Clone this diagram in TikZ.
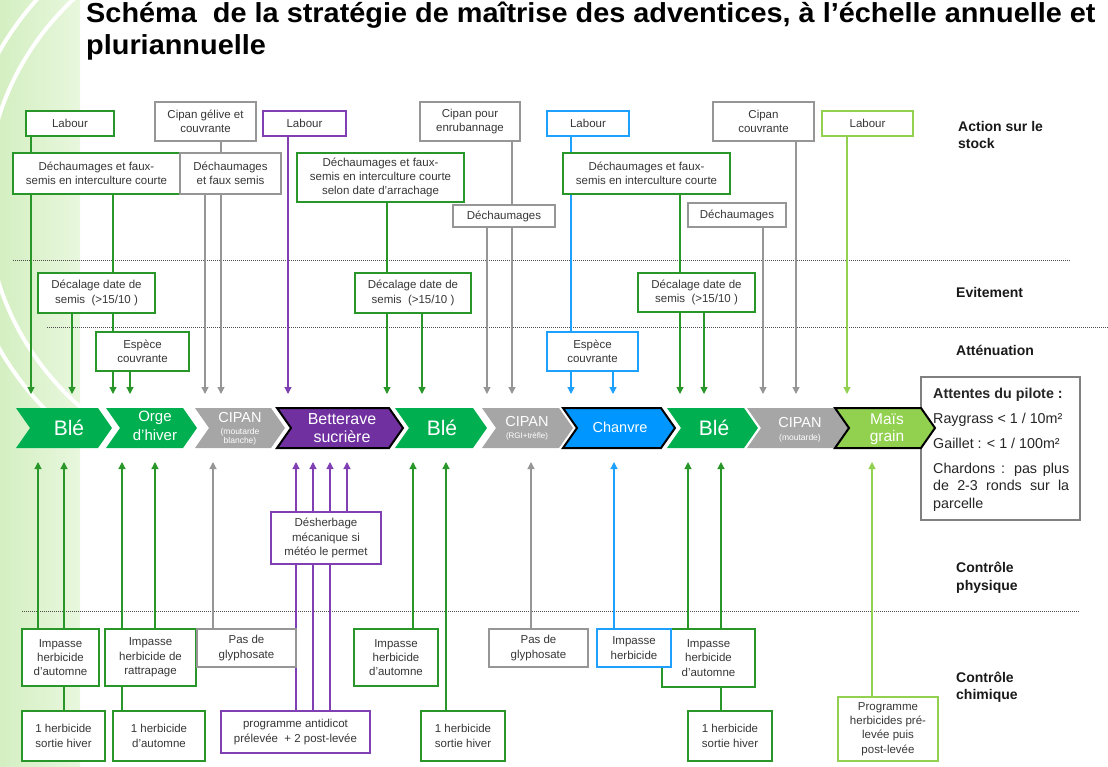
\documentclass[tikz,border=0pt]{standalone}
\usepackage{fontspec}
\setmainfont{Liberation Sans}
\newfontfamily\titlefont[FakeStretch=1.05]{Liberation Sans}
\usetikzlibrary{arrows.meta}
\pgfdeclarelayer{bgg}
\pgfdeclarelayer{bg}
\pgfsetlayers{bgg,bg,main}
\definecolor{dkg}{RGB}{40,150,40}
\definecolor{grl}{RGB}{150,150,150}
\definecolor{pur}{RGB}{128,64,180}
\definecolor{blu}{RGB}{30,160,255}
\definecolor{lgr}{RGB}{146,208,80}
\definecolor{txt}{RGB}{55,55,55}
\definecolor{chg}{RGB}{0,176,80}
\definecolor{chgray}{RGB}{166,166,166}
\definecolor{chp}{RGB}{112,48,160}
\definecolor{chb}{RGB}{0,150,255}
\definecolor{chl}{RGB}{146,208,80}
\definecolor{attg}{RGB}{128,128,128}
\definecolor{stripL}{RGB}{212,239,194}
\definecolor{stripR}{RGB}{232,247,221}
\tikzset{
  bx/.style={draw, fill=white, line width=1.3pt, text=txt, align=center, inner sep=0pt,
    font=\fontsize{11.5}{14.3}\selectfont},
  gb/.style={bx, draw=dkg},
  grb/.style={bx, draw=grl},
  pb/.style={bx, draw=pur},
  bb/.style={bx, draw=blu},
  lb/.style={bx, draw=lgr},
  arr/.style={line width=1.2pt, -{Triangle[width=7pt,length=7pt]}},
  garr/.style={arr, draw=dkg, color=dkg},
  grarr/.style={arr, draw=grl, color=grl},
  parr/.style={arr, draw=pur, color=pur},
  barr/.style={arr, draw=blu, color=blu},
  larr/.style={arr, draw=lgr, color=lgr},
  dotln/.style={draw=black!70, line width=1pt, dash pattern=on 1pt off 1pt},
  chtx/.style={text=white, inner sep=0pt},
  side/.style={font=\fontsize{14}{17}\selectfont\bfseries, text=black!90, inner sep=0pt, anchor=base west},
  att/.style={font=\fontsize{14.3}{17}\selectfont, text=black!85, inner sep=0pt, anchor=base west},
  ttl/.style={anchor=base west, inner sep=0pt, font=\titlefont\fontsize{27.5}{32}\selectfont\bfseries},
}
\newcommand{\bxn}[7]{\node[#1, minimum width={(#5-#3)*1pt}, minimum height={(#6-#4)*1pt}] (#2) at ({(#3+#5)/2},{(#4+#6)/2}) {#7};}
\newcommand{\chevron}[3]{\path[#3] (#1,408) -- ({#2-14},408) -- (#2,428) -- ({#2-14},448) -- (#1,448) -- ({#1+14},428) -- cycle;}
\begin{document}
\begin{tikzpicture}[x=1pt,y=-1pt]
\useasboundingbox (0,0) rectangle (1108,766);
% background strip
\begin{pgfonlayer}{bgg}
\shade[left color=stripL, right color=stripR] (0,0) rectangle (80,766);
\begin{scope}
\clip (0,0) rectangle (80,766);
\draw[white, line width=4pt] (260,200) circle[radius=274pt];
\draw[white, line width=4pt] (260,200) circle[radius=300pt];
\end{scope}
\draw[dotln] (13,260) -- (1070,260);
\draw[dotln] (47,327) -- (1108,327);
\draw[dotln] (22,611) -- (1079,611);
\end{pgfonlayer}
% title
\node[ttl] (t1) at (86,22.5) {Schéma\ \ de la stratégie de maîtrise des adventices, à l’échelle annuelle et};
\node[ttl] (t2) at (86,54) {pluriannuelle};
% side labels
\node[side] (s1) at (958,131) {Action sur le};
\node[side] (s1b) at (958,148) {stock};
\node[side] (s2) at (956,297) {Evitement};
\node[side] (s3) at (956,355) {Atténuation};
\node[side] (s4) at (956,572) {Contrôle};
\node[side] (s4b) at (956,590) {physique};
\node[side] (s5) at (956,682) {Contrôle};
\node[side] (s5b) at (956,699) {chimique};
% top boxes
\bxn{gb}{labA}{26}{111}{114}{136}{Labour}
\bxn{grb}{cipA}{155}{102}{256}{141}{Cipan gélive et\\couvrante}
\bxn{pb}{labB}{263}{111}{346}{136}{Labour}
\bxn{grb}{cipB}{420}{102}{520}{141}{Cipan pour\\enrubannage}
\bxn{bb}{labC}{547}{111}{629}{136}{Labour}
\bxn{grb}{cipC}{713}{102}{814}{141}{Cipan\\couvrante}
\bxn{lb}{labD}{822}{111}{913}{136}{Labour}
\bxn{gb}{decA}{13}{153}{180}{194}{Déchaumages et faux-\\semis en interculture courte}
\bxn{grb}{decB}{180}{153}{281}{194}{Déchaumages\\et faux semis}
\bxn{gb}{decC}{297}{153}{464}{202}{Déchaumages et faux-\\semis en interculture courte\\selon date d’arrachage}
\bxn{grb}{decD}{453}{205}{555}{227}{Déchaumages}
\bxn{gb}{decE}{563}{153}{730}{194}{Déchaumages et faux-\\semis en interculture courte}
\bxn{grb}{decF}{688}{203}{786}{227}{Déchaumages}
\bxn{gb}{calA}{38}{273}{155}{313}{Décalage date de\\semis\ \ (>15/10 )}
\bxn{gb}{calB}{355}{273}{471}{313}{Décalage date de\\semis\ \ (>15/10 )}
\bxn{gb}{calC}{638}{273}{755}{312}{Décalage date de\\semis\ \ (>15/10 )}
\bxn{gb}{espA}{96}{332}{189}{371}{Espèce\\couvrante}
\bxn{bb}{espB}{547}{332}{638}{371}{Espèce\\couvrante}
% bottom boxes
\bxn{pb}{desh}{271}{512}{381}{564}{Désherbage\\mécanique si\\météo le permet}
\bxn{gb}{impA}{22}{629}{99}{686}{Impasse\\herbicide\\d’automne}
\bxn{gb}{impB}{105}{629}{196}{686}{Impasse\\herbicide de\\rattrapage}
\bxn{grb}{glyA}{197}{629}{296}{667}{Pas de\\glyphosate}
\bxn{gb}{impC}{354}{629}{438}{686}{Impasse\\herbicide\\d’automne}
\bxn{grb}{glyB}{489}{629}{588}{667}{Pas de\\glyphosate}
\bxn{gb}{impE}{662}{629}{755}{687}{Impasse\\herbicide\\d’automne}
\bxn{bb}{impD}{597}{629}{671}{667}{Impasse\\herbicide}
\bxn{gb}{herA}{22}{711}{105}{761}{1 herbicide\\sortie hiver}
\bxn{gb}{herB}{113}{711}{205}{761}{1 herbicide\\d’automne}
\bxn{pb}{prog}{221}{711}{370}{753}{programme antidicot\\prélevée\ \ + 2 post-levée}
\bxn{gb}{herC}{421}{711}{505}{761}{1 herbicide\\sortie hiver}
\bxn{gb}{herD}{688}{711}{772}{761}{1 herbicide\\sortie hiver}
\bxn{lb}{progB}{838}{697}{938}{761}{Programme\\herbicides pré-\\levée puis\\post-levée}
% attentes box
\node[draw=attg, line width=2.5pt, fill=white, minimum width=159pt, minimum height=143pt, inner sep=0pt] (att) at (1000.5,448.5) {};
\node[att, font=\fontsize{14.3}{17}\selectfont\bfseries] (a1) at (933,398) {Attentes du pilote :};
\node[att] (a2) at (933,423) {Raygrass < 1 / 10m²};
\node[att] (a3) at (933,448) {Gaillet : < 1 / 100m²};
\node[att] (a4) at (933,473) {\makebox[136pt][s]{Chardons : pas plus}};
\node[att] (a5) at (933,490.5) {\makebox[136pt][s]{de 2-3 ronds sur la}};
\node[att] (a6) at (933,508) {parcelle};
% chevrons
\chevron{16}{112}{fill=chg}
\chevron{106}{197}{fill=chg}
\chevron{195}{285}{fill=chgray}
\chevron{277}{403}{fill=chp, draw=black, line width=2pt}
\chevron{395}{487}{fill=chg}
\chevron{482}{573}{fill=chgray}
\chevron{563}{675}{fill=chb, draw=black, line width=2pt}
\chevron{667}{758}{fill=chg}
\chevron{747}{850}{fill=chgray}
\chevron{835}{935}{fill=chl, draw=black, line width=2pt}
\node[chtx, font=\fontsize{21}{24}\selectfont] (c1) at (69,428) {Blé};
\node[chtx, font=\fontsize{15}{16}\selectfont] (c2a) at (155,418) {Orge};
\node[chtx, font=\fontsize{15}{16}\selectfont] (c2b) at (155,435) {d’hiver};
\node[chtx, font=\fontsize{14.5}{16}\selectfont] (c3a) at (240,418) {CIPAN};
\node[chtx, font=\fontsize{8.5}{9}\selectfont] (c3b) at (240,432) {(moutarde};
\node[chtx, font=\fontsize{8.5}{9}\selectfont] (c3c) at (240,441) {blanche)};
\node[chtx, font=\fontsize{16}{18}\selectfont] (c4a) at (342,419) {Betterave};
\node[chtx, font=\fontsize{16}{18}\selectfont] (c4b) at (342,437) {sucrière};
\node[chtx, font=\fontsize{21}{24}\selectfont] (c5) at (442,428) {Blé};
\node[chtx, font=\fontsize{14.5}{16}\selectfont] (c6a) at (527,422) {CIPAN};
\node[chtx, font=\fontsize{8}{9}\selectfont] (c6b) at (527,436) {(RGI+trèfle)};
\node[chtx, font=\fontsize{14.5}{16}\selectfont] (c7) at (620,427) {Chanvre};
\node[chtx, font=\fontsize{21}{24}\selectfont] (c8) at (714,428) {Blé};
\node[chtx, font=\fontsize{14.5}{16}\selectfont] (c9a) at (800,423) {CIPAN};
\node[chtx, font=\fontsize{8.5}{9}\selectfont] (c9b) at (800,438) {(moutarde)};
\node[chtx, font=\fontsize{15.5}{17}\selectfont] (c10a) at (887,419) {Maïs};
\node[chtx, font=\fontsize{15.5}{17}\selectfont] (c10b) at (887,437) {grain};
% arrow tip coordinates
\foreach \n/\x in {1/31,2/72,3/113,4/130,5/205,6/221,7/288,8/387,9/422,10/487,11/512,12/571,13/613,14/680,15/704,16/763,17/796,18/847}
  \coordinate (d\n) at (\x,394);
\foreach \n/\x in {1/38,2/64,3/122,4/155,5/213,6/296,7/313,8/330,9/347,10/413,11/446,12/531,13/614,14/688,15/721,16/872}
  \coordinate (u\n) at (\x,462);
\begin{pgfonlayer}{bg}
\draw[garr] (labA.south -| d1) -- (d1);
\draw[garr] (calA.south -| d2) -- (d2);
\draw[garr] (decA.south -| d3) -- (d3);
\draw[garr] (espA.south -| d4) -- (d4);
\draw[grarr] (decB.south -| d5) -- (d5);
\draw[grarr] (cipA.south -| d6) -- (d6);
\draw[parr] (labB.south -| d7) -- (d7);
\draw[garr] (decC.south -| d8) -- (d8);
\draw[garr] (calB.south -| d9) -- (d9);
\draw[grarr] (decD.south -| d10) -- (d10);
\draw[grarr] (cipB.south -| d11) -- (d11);
\draw[barr] (labC.south -| d12) -- (d12);
\draw[barr] (espB.south -| d13) -- (d13);
\draw[garr] (decE.south -| d14) -- (d14);
\draw[garr] (calC.south -| d15) -- (d15);
\draw[grarr] (decF.south -| d16) -- (d16);
\draw[grarr] (cipC.south -| d17) -- (d17);
\draw[larr] (labD.south -| d18) -- (d18);
\draw[garr] (impA.north -| u1) -- (u1);
\draw[garr] (herA.north -| u2) -- (u2);
\draw[garr] (herB.north -| u3) -- (u3);
\draw[garr] (impB.north -| u4) -- (u4);
\draw[grarr] (glyA.north -| u5) -- (u5);
\draw[parr] (prog.north -| u6) -- (u6);
\draw[parr] (prog.north -| u7) -- (u7);
\draw[parr] (prog.north -| u8) -- (u8);
\draw[parr] (desh.north -| u9) -- (u9);
\draw[garr] (impC.north -| u10) -- (u10);
\draw[garr] (herC.north -| u11) -- (u11);
\draw[grarr] (glyB.north -| u12) -- (u12);
\draw[barr] (impD.north -| u13) -- (u13);
\draw[garr] (impE.north -| u14) -- (u14);
\draw[garr] (herD.north -| u15) -- (u15);
\draw[larr] (progB.north -| u16) -- (u16);
\end{pgfonlayer}
\end{tikzpicture}
\end{document}
